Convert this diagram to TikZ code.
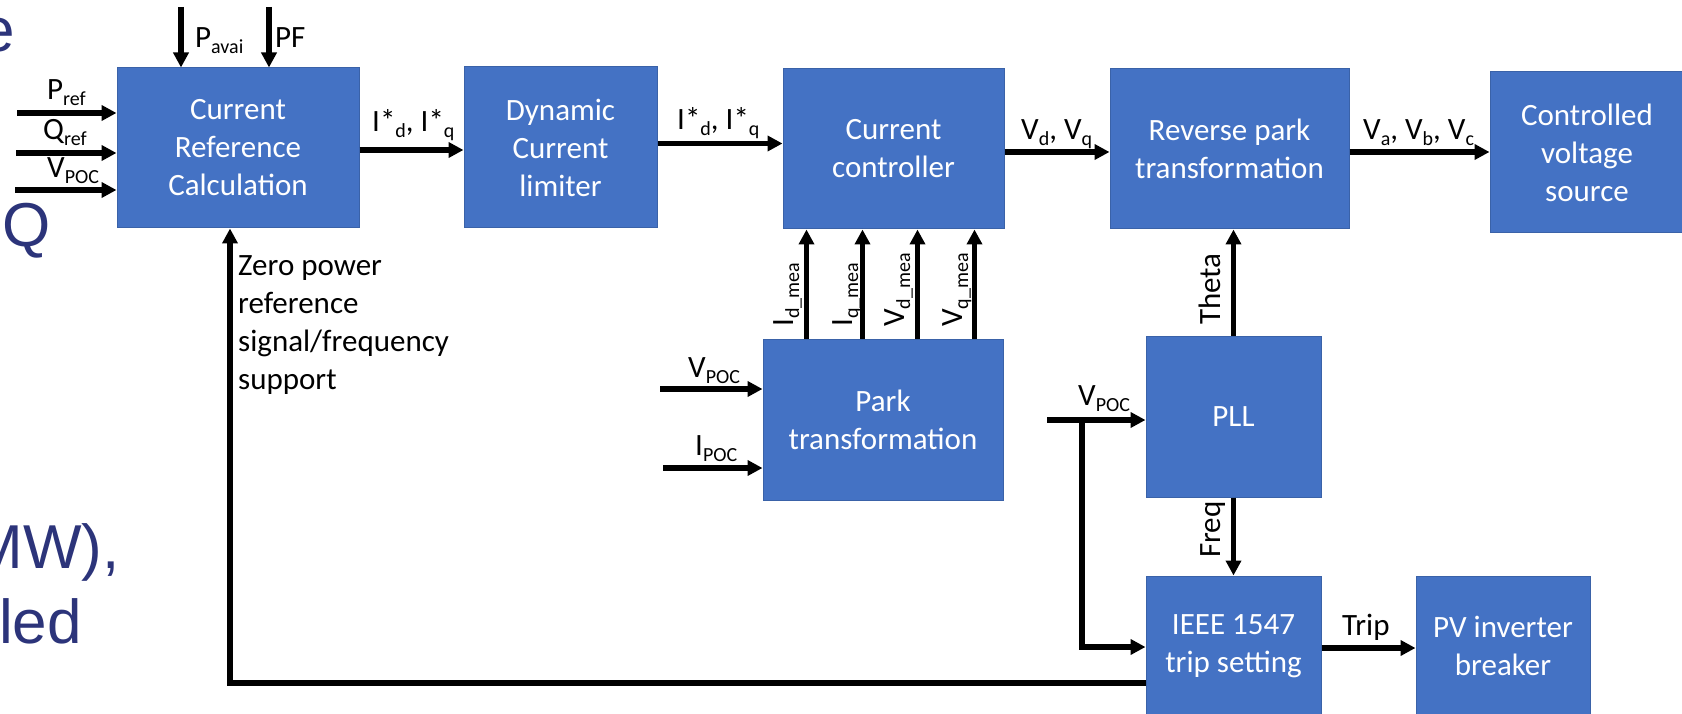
\documentclass[tikz,border=0pt]{standalone}
\usepackage{fontspec}
\setmainfont{Carlito}
\newfontfamily\slidefont{Liberation Sans}
\usetikzlibrary{arrows.meta}
\definecolor{boxb}{HTML}{4472C4}
\definecolor{bordc}{HTML}{3A62A8}
\definecolor{slidec}{RGB}{44,52,122}
\newcommand\sbx[1]{\raisebox{-6pt}{\fontsize{20}{20}\selectfont #1}}
\newcommand\bfnt{\fontsize{31}{38}\selectfont}
\tikzset{
  blk/.style={draw=bordc, line width=1pt, fill=boxb, text=white, align=center, font=\bfnt, inner sep=0pt},
  arr/.style={line width=5.5pt, -{Triangle[length=15pt,width=15pt]}},
  lbl/.style={font=\bfnt, inner sep=0pt, align=left},
  slide/.style={font=\slidefont\fontsize{62}{70}\selectfont, text=slidec, inner sep=0pt},
}
\begin{document}
\begin{tikzpicture}[x=1pt,y=-1pt]
\useasboundingbox (0,0) rectangle (1682,714);
% background slide text fragments
\node[slide, anchor=base east] (s1) at (15,52) {e};
\node[slide, anchor=base west] (s2) at (2,247) {Q};
\node[slide, anchor=base east] (s3) at (120,568) {MW),};
\node[slide, anchor=base east] (s4) at (82,643) {led};
% blocks
\node[blk, minimum width=242pt, minimum height=160pt] (crc) at (238,148) {Current\\Reference\\Calculation};
\node[blk, minimum width=193pt, minimum height=161pt] (dcl) at (560.5,147.5) {Dynamic\\Current\\limiter};
\node[blk, minimum width=221pt, minimum height=160pt] (cc) at (893.5,149) {Current\\controller};
\node[blk, minimum width=239pt, minimum height=160pt] (rpt) at (1229.5,149) {Reverse park\\transformation};
\node[blk, minimum width=194pt, minimum height=161pt] (cvs) at (1587,152.5) {Controlled\\voltage\\source};
\node[blk, minimum width=240pt, minimum height=161pt] (park) at (883,419.5) {Park\\transformation};
\node[blk, minimum width=175pt, minimum height=161pt] (pll) at (1233.5,416.5) {PLL};
\node[blk, minimum width=175pt, minimum height=140pt] (ieee) at (1233.5,646) {IEEE 1547\\trip setting};
\node[blk, minimum width=174pt, minimum height=140pt] (pv) at (1503,646) {PV inverter\\breaker};
% inputs to CRC
\coordinate (pref) at (17,113);
\coordinate (qref) at (16,153);
\coordinate (vpoc) at (15,190);
\coordinate (pav) at (181,7);
\coordinate (pf) at (269,7);
\draw[arr] (pref) -- (pref -| crc.west);
\draw[arr] (qref) -- (qref -| crc.west);
\draw[arr] (vpoc) -- (vpoc -| crc.west);
\draw[arr] (pav) -- (pav |- crc.north);
\draw[arr] (pf) -- (pf |- crc.north);
\node[lbl, anchor=base west] (lpref) at (47,100) {P\sbx{ref}};
\node[lbl, anchor=base west] (lqref) at (43,140) {Q\sbx{ref}};
\node[lbl, anchor=base west] (lvpoc) at (47,178) {V\sbx{POC}};
\node[lbl, anchor=base west] (lpav) at (195,48) {P\sbx{avai}};
\node[lbl, anchor=base west] (lpf) at (275,48) {PF};
% main chain
\draw[arr] ([yshift=-2pt]crc.east) -- ([yshift=-2pt]crc.east -| dcl.west);
\node[lbl, anchor=base west] (li1) at (372,132) {I*\sbx{d}, I*\sbx{q}};
\draw[arr] ([yshift=4pt]dcl.east) -- ([yshift=4pt]dcl.east -| cc.west);
\node[lbl, anchor=base west] (li2) at (677,130) {I*\sbx{d}, I*\sbx{q}};
\draw[arr] ([yshift=-3pt]cc.east) -- ([yshift=-3pt]cc.east -| rpt.west);
\node[lbl, anchor=base west] (lvdq) at (1021,140) {V\sbx{d}, V\sbx{q}};
\draw[arr] ([yshift=-3pt]rpt.east) -- ([yshift=-3pt]rpt.east -| cvs.west);
\node[lbl, anchor=base west] (lvabc) at (1363,140) {V\sbx{a}, V\sbx{b}, V\sbx{c}};
% park to current controller
\foreach \dx in {44,100,155,212}{
  \draw[arr] ([xshift=\dx pt]park.north west) -- ([xshift=\dx pt]park.north west |- cc.south);
}
\node[lbl, rotate=90, anchor=base west] (lid) at (793,327) {I\sbx{d\_mea}};
\node[lbl, rotate=90, anchor=base west] (liq) at (852,327) {I\sbx{q\_mea}};
\node[lbl, rotate=90, anchor=base west] (lvd) at (904,327) {V\sbx{d\_mea}};
\node[lbl, rotate=90, anchor=base west] (lvq) at (962,327) {V\sbx{q\_mea}};
% park inputs
\coordinate (pv1) at (660,389);
\coordinate (pi1) at (663,468);
\draw[arr] (pv1) -- (pv1 -| park.west);
\draw[arr] (pi1) -- (pi1 -| park.west);
\node[lbl, anchor=base west] (lpv1) at (688,377) {V\sbx{POC}};
\node[lbl, anchor=base west] (lpi1) at (695,455) {I\sbx{POC}};
% PLL
\draw[arr] (pll.north) -- (pll.north |- rpt.south);
\node[lbl, rotate=90, anchor=base west] (lth) at (1220,325) {Theta};
\draw[arr] (pll.south) -- (ieee.north);
\node[lbl, rotate=90, anchor=base west] (lfr) at (1220,558) {Freq};
\coordinate (vpll) at (1047,420);
\coordinate (vbr) at (1082,420);
\coordinate (vbot) at (1082,647);
\draw[arr] (vpll) -- (vpll -| pll.west);
\draw[arr] (vbr) -- (vbot) -- (vbot -| ieee.west);
\node[lbl, anchor=base west] (lvpll) at (1078,405) {V\sbx{POC}};
% trip
\draw[arr] ([yshift=-2pt]ieee.east) -- ([yshift=-2pt]ieee.east -| pv.west);
\node[lbl, anchor=base west] (ltrip) at (1342,635) {Trip};
% feedback
\coordinate (fb) at (230,683);
\draw[arr] (ieee.west |- fb) -- (fb) -- (fb |- crc.south);
\node[lbl, anchor=north west] (lzero) at (238,255) {Zero power\\reference\\signal/frequency\\support};
\end{tikzpicture}
\end{document}
